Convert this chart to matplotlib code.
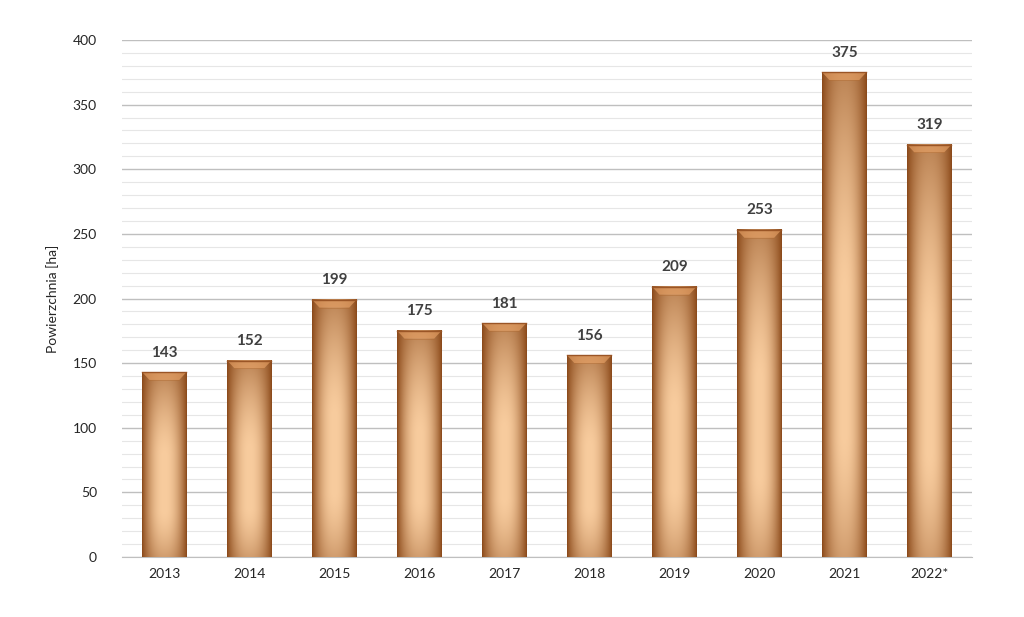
import matplotlib
matplotlib.use("Agg")
import matplotlib.pyplot as plt
import numpy as np
from matplotlib.patches import Polygon, Rectangle
from matplotlib.colors import to_rgb

years = ["2013", "2014", "2015", "2016", "2017", "2018", "2019", "2020", "2021", "2022*"]
values = [143, 152, 199, 175, 181, 156, 209, 253, 375, 319]
y_ticks = [0, 50, 100, 150, 200, 250, 300, 350, 400]
y_label = "Powierzchnia [ha]"

plt.rcParams['font.family'] = ['Lato', 'DejaVu Sans']

fig = plt.figure(figsize=(10.24, 6.17), dpi=100)
ax = fig.add_axes([0.119, 0.0972, 0.830, 0.838])

bar_w = 0.52
x = np.arange(len(years))
bars = ax.bar(x, values, width=bar_w, color='none', edgecolor='none', zorder=3)

dark = np.array(to_rgb('#8a4818'))
light = np.array(to_rgb('#f8cc9e'))
nu, nv = 60, 200
u = np.linspace(-1, 1, nu)
for b, val in zip(bars, values):
    x0 = b.get_x(); x1 = x0 + b.get_width()
    v = np.linspace(0, 1, nv)
    U, V = np.meshgrid(u, v)
    f = 1 - 0.95 * np.abs(U) ** 2.2
    vert = 1 - 0.55 * np.clip((V - 0.55) / 0.45, 0, 1) ** 1.5 - 0.35 * np.clip((0.25 - V) / 0.25, 0, 1) ** 1.5
    f = np.clip(f * vert, 0, 1)
    img = dark[None, None, :] + (light - dark)[None, None, :] * f[..., None]
    ax.imshow(img, extent=[x0, x1, 0, val], origin='lower', aspect='auto',
              interpolation='bilinear', zorder=3)
    ax.add_patch(Rectangle((x0, 0), x1 - x0, val, facecolor='none',
                           edgecolor='#8a4a1c', lw=0.6, alpha=0.7, zorder=4))
    # bevel at top
    h = 6.0
    d = 0.085
    bevel = Polygon([[x0, val], [x1, val], [x1 - d, val - h], [x0 + d, val - h]],
                    closed=True, facecolor='#e6a064', edgecolor='none', alpha=0.65, zorder=4)
    ax.add_patch(bevel)
    ax.plot([x0 + d, x1 - d], [val - h, val - h], color='#b06a30', lw=0.6, alpha=0.5, zorder=5)
    ax.plot([x0, x1], [val, val], color='#9a5526', lw=1.0, zorder=5)
    ax.annotate(str(val), (b.get_x() + b.get_width() / 2, val), xytext=(0, 9),
                textcoords='offset points', ha='center', va='bottom',
                fontsize=11, fontweight='bold', color='#404040', zorder=6)

ax.set_xlim(-0.5, len(years) - 0.5)
ax.set_ylim(0, 400)
ax.set_yticks(y_ticks)
ax.set_yticks(np.arange(0, 401, 10), minor=True)
ax.set_xticks(x)
ax.set_xticklabels(years)
ax.grid(axis='y', which='major', color='#bfbfbf', lw=1.0, zorder=0)
ax.grid(axis='y', which='minor', color='#e6e6e6', lw=0.8, zorder=0)
ax.set_axisbelow(True)
for s in ['top', 'right', 'left']:
    ax.spines[s].set_visible(False)
ax.spines['bottom'].set_color('#bfbfbf')
ax.tick_params(axis='both', which='both', length=0, labelsize=10, colors='#262626')
ax.tick_params(axis='y', pad=18)
ax.tick_params(axis='x', pad=8)
ax.set_ylabel(y_label, fontsize=10, color='#262626', labelpad=10)

fig.savefig("out.png", dpi=100)
